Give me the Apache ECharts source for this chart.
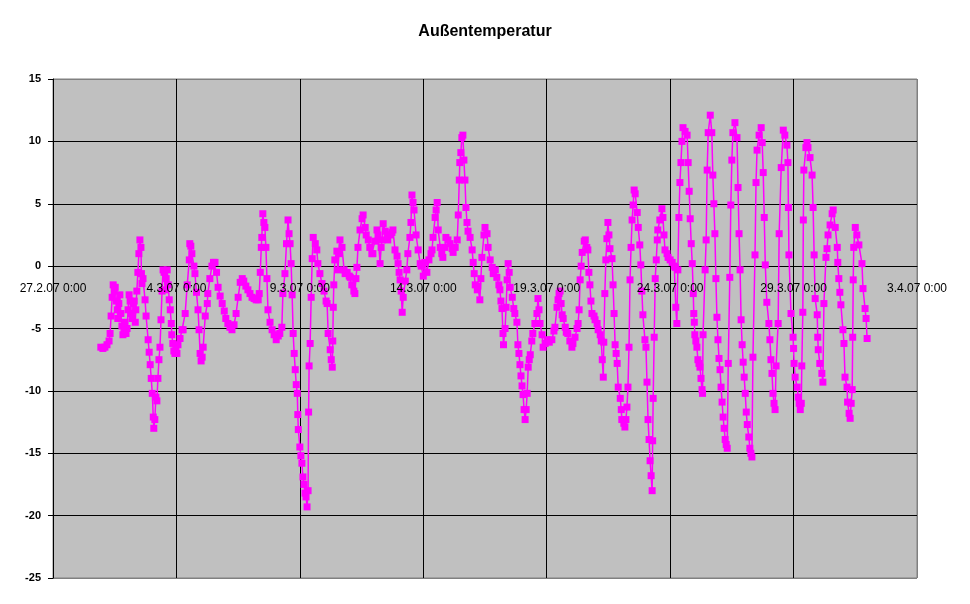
<!DOCTYPE html>
<html>
<head>
<meta charset="utf-8">
<script src="https://cdn.jsdelivr.net/npm/echarts@6/dist/echarts.min.js"></script>
<style>html,body{margin:0;padding:0;background:#fff}#c{width:970px;height:604px}</style>
</head>
<body>
<div id="c"></div>
<script>
// Hours after 27.2.07 0:00 and outdoor temperature in °C
const week1 = [[46.5,-6.5],[48.5,-6.6],[50.5,-6.5],[52.5,-6.3],[54.5,-6.0],[55.5,-5.4],[56.5,-4.0],[57.5,-2.5],[58.5,-1.5],[59.5,-2.0],[60.5,-1.7],[61.5,-2.8],[62.5,-3.5],[63,-4.2],[64,-3.0],[65,-2.3],[66,-3.8],[67,-4.8],[68,-5.5],[69,-5.3],[70,-4.5],[71,-5.4],[72,-5.0],[73,-3.5],[74,-2.3],[75,-2.8],[76,-3.8],[77,-4.2],[78,-3.0],[79,-2.8],[80,-4.5],[80.5,-3.5],[81.5,-2.0],[82.5,-0.5],[83.5,1.0],[84.5,2.1],[85.5,1.5],[86,-0.6],[86.5,-1.4],[87.5,-1.0],[89.5,-2.7],[90.5,-4.0],[92.5,-5.9],[93.5,-6.9],[94.5,-7.9],[95.5,-9.0],[96.5,-10.2],[97.5,-12.1],[98,-13.0],[99,-12.3],[100,-10.5],[101,-10.8],[102,-9.0],[103,-7.5],[104,-6.5],[105,-4.3],[106,-2.0],[107,-0.3],[108,-0.5],[109,-1.9],[110,-1.0],[111,-0.3],[112,-1.5],[113,-2.7],[114,-3.5],[115,-4.6],[115.5,-5.5],[116.5,-6.2],[117.5,-6.8],[118.5,-7.0],[119.5,-6.6]];
const week2 = [[120.5,-7.0],[121.5,-6.3],[123.5,-5.8],[125.5,-5.1],[126.5,-5.1],[128.5,-3.8],[130.5,-1.5],[132.5,0.5],[133,1.8],[134,1.6],[135,1.0],[137,0.0],[138,-0.6],[139.5,-2.1],[141,-3.5],[142,-5.1],[143,-7.0],[144,-7.6],[145,-7.3],[146,-6.5],[148,-4.0],[150,-3.0],[150.5,-2.2],[152.5,-1.0],[154.5,0.0],[156,0.3],[157.5,0.3],[159,-0.5],[160.5,-1.7],[162.5,-2.4],[164.5,-3.0],[166.5,-3.6],[168,-4.2],[170,-4.6],[172,-4.9],[174,-5.1],[176,-4.7],[178,-3.8],[180,-2.5],[182,-1.3],[184,-1.0],[185.5,-1.2],[187.5,-1.6],[189.5,-1.9],[191.5,-2.2],[193.5,-2.5],[195.5,-2.6],[197.5,-2.7],[199.5,-2.7],[200.5,-2.2],[201.5,-0.5],[202.5,1.5],[203,2.3],[204,4.2],[205,3.5],[206,3.1],[207,1.5],[208,-1.0],[209,-3.5],[211,-4.5],[213,-5.1],[215,-5.5],[217,-5.9],[219,-5.6],[220.5,-5.4],[222.5,-4.9],[223.5,-2.2],[225.5,-0.6],[227,1.8],[228.5,3.7],[229.5,2.6],[230.5,1.8],[231.5,0.2],[232.5,-2.3],[233.5,-5.4],[234.5,-7.0],[235.5,-8.3],[236.5,-9.5],[237.5,-10.2],[238,-11.9],[238.5,-13.1],[240,-14.5],[241,-15.2],[242,-15.8],[243,-16.9],[244,-17.5],[245,-18.2],[246,-18.5],[247,-19.3],[248,-18.0],[248.5,-11.7],[249,-8.0],[250,-6.2],[251,-2.5],[252,0.6],[253,2.3]];
const week3 = [[255,1.8],[256.5,1.3],[257.5,0.2],[259.5,-0.6],[261.5,-1.4],[263.5,-2.0],[265.5,-2.8],[266.5,-3.0],[267.5,-5.4],[269.5,-6.7],[270.5,-7.5],[271.5,-8.1],[272,-6.0],[272.5,-3.3],[273,-1.5],[274,0.5],[276,1.2],[277,-0.3],[278,1.0],[279,2.1],[281,1.5],[283,-0.3],[284,-0.6],[286,-0.5],[288,-0.8],[289,-0.9],[290.5,-1.5],[292.5,-2.0],[293.5,-2.2],[294.5,-1.0],[295.5,-0.1],[296.5,1.5],[298.5,2.9],[300.5,3.8],[301.5,4.1],[303.5,3.1],[304.5,2.5],[306.5,2.1],[308,1.5],[310,1.0],[311,1.0],[313,2.0],[315,2.9],[316,2.5],[318,0.2],[319,1.5],[320,2.1],[321,3.4],[323,2.8],[325,2.5],[325.5,2.1],[327.5,2.5],[329.5,2.7],[330.5,2.9],[332.5,1.3],[334.5,0.8],[335.5,0.2],[336.5,-0.5],[337.5,-1.1],[338.5,-2.0],[339.5,-3.7],[340.5,-2.5],[342.5,-1.2],[344,-0.3],[345,1.0],[347,2.3],[348,3.5],[349,5.7],[350,5.1],[351,4.5],[353,2.5],[355,1.3],[357,0.2]];
const week4 = [[358,0.0],[360,-0.8],[361.5,0.3],[363.5,-0.5],[365.5,0.5],[367.5,1.0],[368.5,1.3],[369.5,2.3],[371.5,3.9],[372.5,4.5],[373.5,5.1],[374.5,2.9],[376.5,1.5],[378,1.0],[379,0.7],[381,1.5],[382,2.3],[384,2.1],[386,1.8],[388,1.4],[389,1.1],[391,1.5],[393,2.1],[394,4.1],[395,6.9],[395.5,8.3],[396.5,9.1],[397.5,10.3],[398.5,10.5],[399.5,8.5],[400.5,6.9],[401.5,4.7],[402.5,3.5],[403.5,2.8],[405.5,2.3],[407.5,1.3],[408.5,0.3],[409.5,-0.6],[410.5,-1.5],[412.5,-1.9],[413,-1.6],[415,-2.7],[416,-1.0],[417,0.7],[419,2.5],[420,3.1],[422,2.6],[423,1.5],[425,0.5],[427,-0.1],[428,-0.6],[430,-0.3],[431.5,-0.9],[433.5,-1.5],[434.5,-1.9],[435.5,-2.8],[436.5,-3.4],[437.5,-5.4],[438,-6.3],[439.5,-5.0],[440.5,-3.3],[441.5,-1.1],[442.5,0.2],[443.5,-0.5],[444.5,-1.7],[446.5,-2.5],[448,-3.4],[449,-3.8],[451,-4.5],[452,-6.3],[453,-7.0],[454,-7.9],[455,-8.8],[456,-9.6],[457,-10.3],[458,-11.5],[459,-12.3],[460,-11.5],[461,-10.2],[462,-8.1],[463,-7.5],[464,-7.1],[465.5,-6.0],[466.5,-5.4],[468.5,-4.6],[470.5,-3.8],[471.5,-2.6],[472.5,-3.5],[473.5,-4.6],[475.5,-5.5],[476.5,-6.5],[478.5,-6.2],[480.5,-5.9],[482.5,-6.1],[485,-5.9],[487,-5.2],[488,-4.9],[490,-3.3],[491,-2.7]];
const week5 = [[492,-2.2],[493,-2.0],[494,-3.0],[495,-3.9],[496,-4.2],[498,-4.9],[499,-5.3],[500.5,-5.4],[502.5,-6.0],[504.5,-6.5],[505.5,-6.2],[507.5,-5.7],[509.5,-5.0],[510.5,-4.6],[511.5,-3.5],[512.5,-1.1],[513.5,0.0],[514.5,1.1],[516.5,2.0],[517.5,2.1],[519,1.5],[520,1.3],[521,-0.5],[522,-1.5],[523,-2.8],[524,-3.8],[526,-4.0],[527,-4.3],[529,-4.6],[530,-5.1],[532,-5.5],[533,-6.0],[534,-7.5],[535,-8.9],[535.5,-6.1],[536.5,-2.2],[537.5,0.5],[538.5,2.2],[539.5,3.5],[540.5,2.5],[541.5,1.4],[543.5,0.6],[544.5,-1.5],[545.5,-3.8],[546.5,-6.3],[547.5,-7.0],[548.5,-7.8],[549.5,-9.7],[551.5,-10.6],[552.5,-11.5],[553,-12.3],[555,-12.6],[556,-12.9],[557,-12.3],[558,-11.3],[559,-9.7],[560,-6.5],[561,-1.1],[562,1.5],[563,3.7],[564,4.9],[565,6.1],[566,5.8],[568,4.3],[569,3.1],[570.5,1.7],[571.5,0.1],[572.5,-2.0],[573.5,-3.9],[575.5,-5.9],[576.5,-6.5],[577.5,-9.3],[578.5,-12.3],[579.5,-13.9],[580.5,-15.6],[581.5,-16.8],[582.5,-18.0],[583,-14.0],[583.5,-10.6],[584.5,-5.7],[585.5,-1.0],[586.5,0.5],[587.5,2.1],[588,2.9],[590,3.7],[592,4.6],[593,3.9],[594,2.5],[595,1.3],[597,1.0],[598,0.7],[600,0.5],[602,0.3],[604,0.0],[605,-0.1],[605.5,-3.3],[606.5,-4.6]];
const week6 = [[607.5,-0.3],[608.5,3.9],[609.5,6.7],[610.5,8.3],[611.5,10.0],[612.5,11.1],[614.5,10.8],[616.5,10.5],[617.5,8.3],[618.5,6.0],[619.5,3.8],[620.5,1.8],[621.5,0.2],[622.5,-2.2],[623,-3.8],[623.5,-4.5],[624,-5.5],[625,-6.0],[626,-6.5],[627,-7.5],[628,-7.8],[629,-8.1],[630,-9.0],[631,-9.9],[631.5,-10.2],[632,-5.5],[634,-0.3],[635,2.1],[636,7.7],[637,10.7],[639,12.1],[640.5,10.7],[641.5,7.3],[642.5,5.0],[643.5,2.6],[644.5,-1.0],[645.5,-4.1],[646.5,-5.9],[647.5,-7.4],[648.5,-8.3],[649.5,-9.7],[650.5,-10.9],[651.5,-12.1],[652.5,-13.0],[653.5,-13.9],[654.5,-14.3],[655.5,-14.6],[656.5,-7.8],[658,-0.9],[659,4.9],[660,8.5],[661,10.7],[663,11.5],[665,10.3],[666,6.3],[667,2.6],[668,-0.3],[669,-4.3],[670,-6.3],[671,-7.7],[672,-8.9],[673,-10.2],[674,-11.7],[675,-12.7],[676.5,-13.7],[677.5,-14.6],[678.5,-15.0],[679.5,-15.3],[680.5,-7.3],[682.5,0.9],[683.5,6.7],[684.5,9.3],[686.5,10.5],[688.5,11.1],[689.5,9.9],[690.5,7.5],[691.5,3.9],[692.5,0.1],[694,-2.9],[696,-4.6],[697,-5.9],[698,-7.5],[699,-8.6],[700,-10.2],[701,-11.0],[702,-11.5],[703,-8.0],[705,-4.6],[706,2.6],[708,7.9],[710,10.9]];
const week7 = [[711.5,10.5],[713.5,9.7],[714.5,8.3],[715,4.7],[715.5,0.9],[717.5,-3.8],[719.5,-5.7],[720,-6.6],[720.5,-7.8],[721.5,-8.9],[723.5,-9.7],[724.5,-10.5],[725.5,-11.0],[726.5,-11.5],[727.5,-11.0],[728,-8.0],[729,-3.7],[729.5,3.7],[730,7.7],[732,9.5],[733,9.9],[734,9.5],[736,8.7],[738,7.3],[739,4.7],[740,0.9],[741,-2.6],[743,-3.9],[743.5,-5.7],[744,-6.7],[745.5,-7.8],[747.5,-8.6],[748.5,-9.3],[749.5,-3.0],[751.5,0.7],[752.5,1.4],[753.5,2.5],[755.5,3.3],[757.5,4.2],[758.5,4.5],[760.5,3.1],[762.5,1.5],[763,0.3],[764,-1.0],[765,-2.1],[766,-3.1],[768,-5.1],[769,-6.2],[770,-8.9],[772,-9.7],[772.5,-10.9],[774,-11.8],[775,-12.2],[776,-11.0],[777,-9.9],[777.5,-5.7],[778,-1.1],[778.5,1.5],[780,3.1],[781.5,2.5],[783.5,1.7],[786.5,0.2],[787.5,-1.8],[789.5,-3.4],[790.5,-4.2],[791.5,-5.8]];

const yTicks = { min: -25, max: 15, step: 5 };
const startDate = Date.UTC(2007, 1, 27, 0, 0);   // 27.2.07 0:00
const spanDays = 35, tickDays = 5;
const titleText = 'Außentemperatur';

const HOUR = 3600000, DAY = 24 * HOUR;
const readings = [].concat(week1, week2, week3, week4, week5, week6, week7);
const seriesData = readings.map(p => [startDate + p[0] * HOUR, p[1]]);

function fmtDate(v) {
  const d = new Date(v);
  const yy = String(d.getUTCFullYear()).slice(2);
  const mm = String(d.getUTCMinutes()).padStart(2, '0');
  return d.getUTCDate() + '.' + (d.getUTCMonth() + 1) + '.' + yy + ' ' + d.getUTCHours() + ':' + mm;
}

const nX = spanDays / tickDays + 1;
const xLineColors = []; for (let i = 0; i < nX; i++) xLineColors.push(i === nX - 1 ? '#808080' : '#000000');
const nY = (yTicks.max - yTicks.min) / yTicks.step + 1;
const yLineColors = []; for (let i = 0; i < nY; i++) yLineColors.push((i === 0 || i === nY - 1) ? '#808080' : '#000000');

const FONT = 'Arial, "Liberation Sans", Helvetica, sans-serif';
const CH = 604;
const gridBox = { left: 53, right: 53, top: 79, bottom: 26, containLabel: false };
const plotH = CH - gridBox.top - gridBox.bottom;
// distance from the plot bottom up to the y = 0 line, so the date labels sit on the zero line
const zeroLift = plotH * (0 - yTicks.min) / (yTicks.max - yTicks.min);
const xRange = { type: 'value', min: startDate, max: startDate + spanDays * DAY, interval: tickDays * DAY };
const yRange = { type: 'value', min: yTicks.min, max: yTicks.max, interval: yTicks.step };

const chart = echarts.init(document.getElementById('c'), null, { renderer: 'canvas' });
chart.setOption({
  animation: false,
  backgroundColor: '#ffffff',
  title: {
    text: titleText, left: 'center', top: 19,
    textStyle: { fontFamily: FONT, fontSize: 16, fontWeight: 'bold', color: '#000' }
  },
  grid: [
    Object.assign({ show: true, backgroundColor: '#c0c0c0', borderColor: '#808080', borderWidth: 1 }, gridBox),
    Object.assign({ show: false }, gridBox)
  ],
  xAxis: [Object.assign({}, xRange, {
    gridIndex: 0,
    axisLine: { onZero: true, lineStyle: { color: '#000', width: 1 } },
    axisTick: { show: false },
    axisLabel: { show: false },
    splitLine: { show: true, lineStyle: { color: xLineColors, width: 1 } }
  }), Object.assign({}, xRange, {
    gridIndex: 1, z: 10, position: 'bottom', offset: -zeroLift,
    axisLine: { show: false, onZero: false },
    axisTick: { show: false },
    splitLine: { show: false },
    axisLabel: {
      show: true, margin: 17, showMinLabel: true, showMaxLabel: true,
      color: '#000', fontFamily: FONT, fontSize: 12, formatter: fmtDate
    }
  })],
  yAxis: [Object.assign({}, yRange, {
    gridIndex: 0,
    axisLine: { show: true, onZero: false, lineStyle: { color: '#000', width: 1 } },
    axisTick: { show: true, inside: false, length: 5, lineStyle: { color: '#000' } },
    axisLabel: { color: '#000', fontFamily: FONT, fontSize: 11, fontWeight: 'bold', margin: 12 },
    splitLine: { show: true, lineStyle: { color: yLineColors, width: 1 } }
  }), Object.assign({}, yRange, {
    gridIndex: 1,
    axisLine: { show: false, onZero: false },
    axisTick: { show: false },
    axisLabel: { show: false },
    splitLine: { show: false }
  })],
  series: [{
    type: 'line', xAxisIndex: 0, yAxisIndex: 0, data: seriesData,
    symbol: 'rect', symbolSize: 7, showSymbol: true, showAllSymbol: true,
    itemStyle: { color: '#ff00ff' },
    lineStyle: { color: '#ff00ff', width: 1.5 },
    z: 2
  }]
});
</script>
</body>
</html>
